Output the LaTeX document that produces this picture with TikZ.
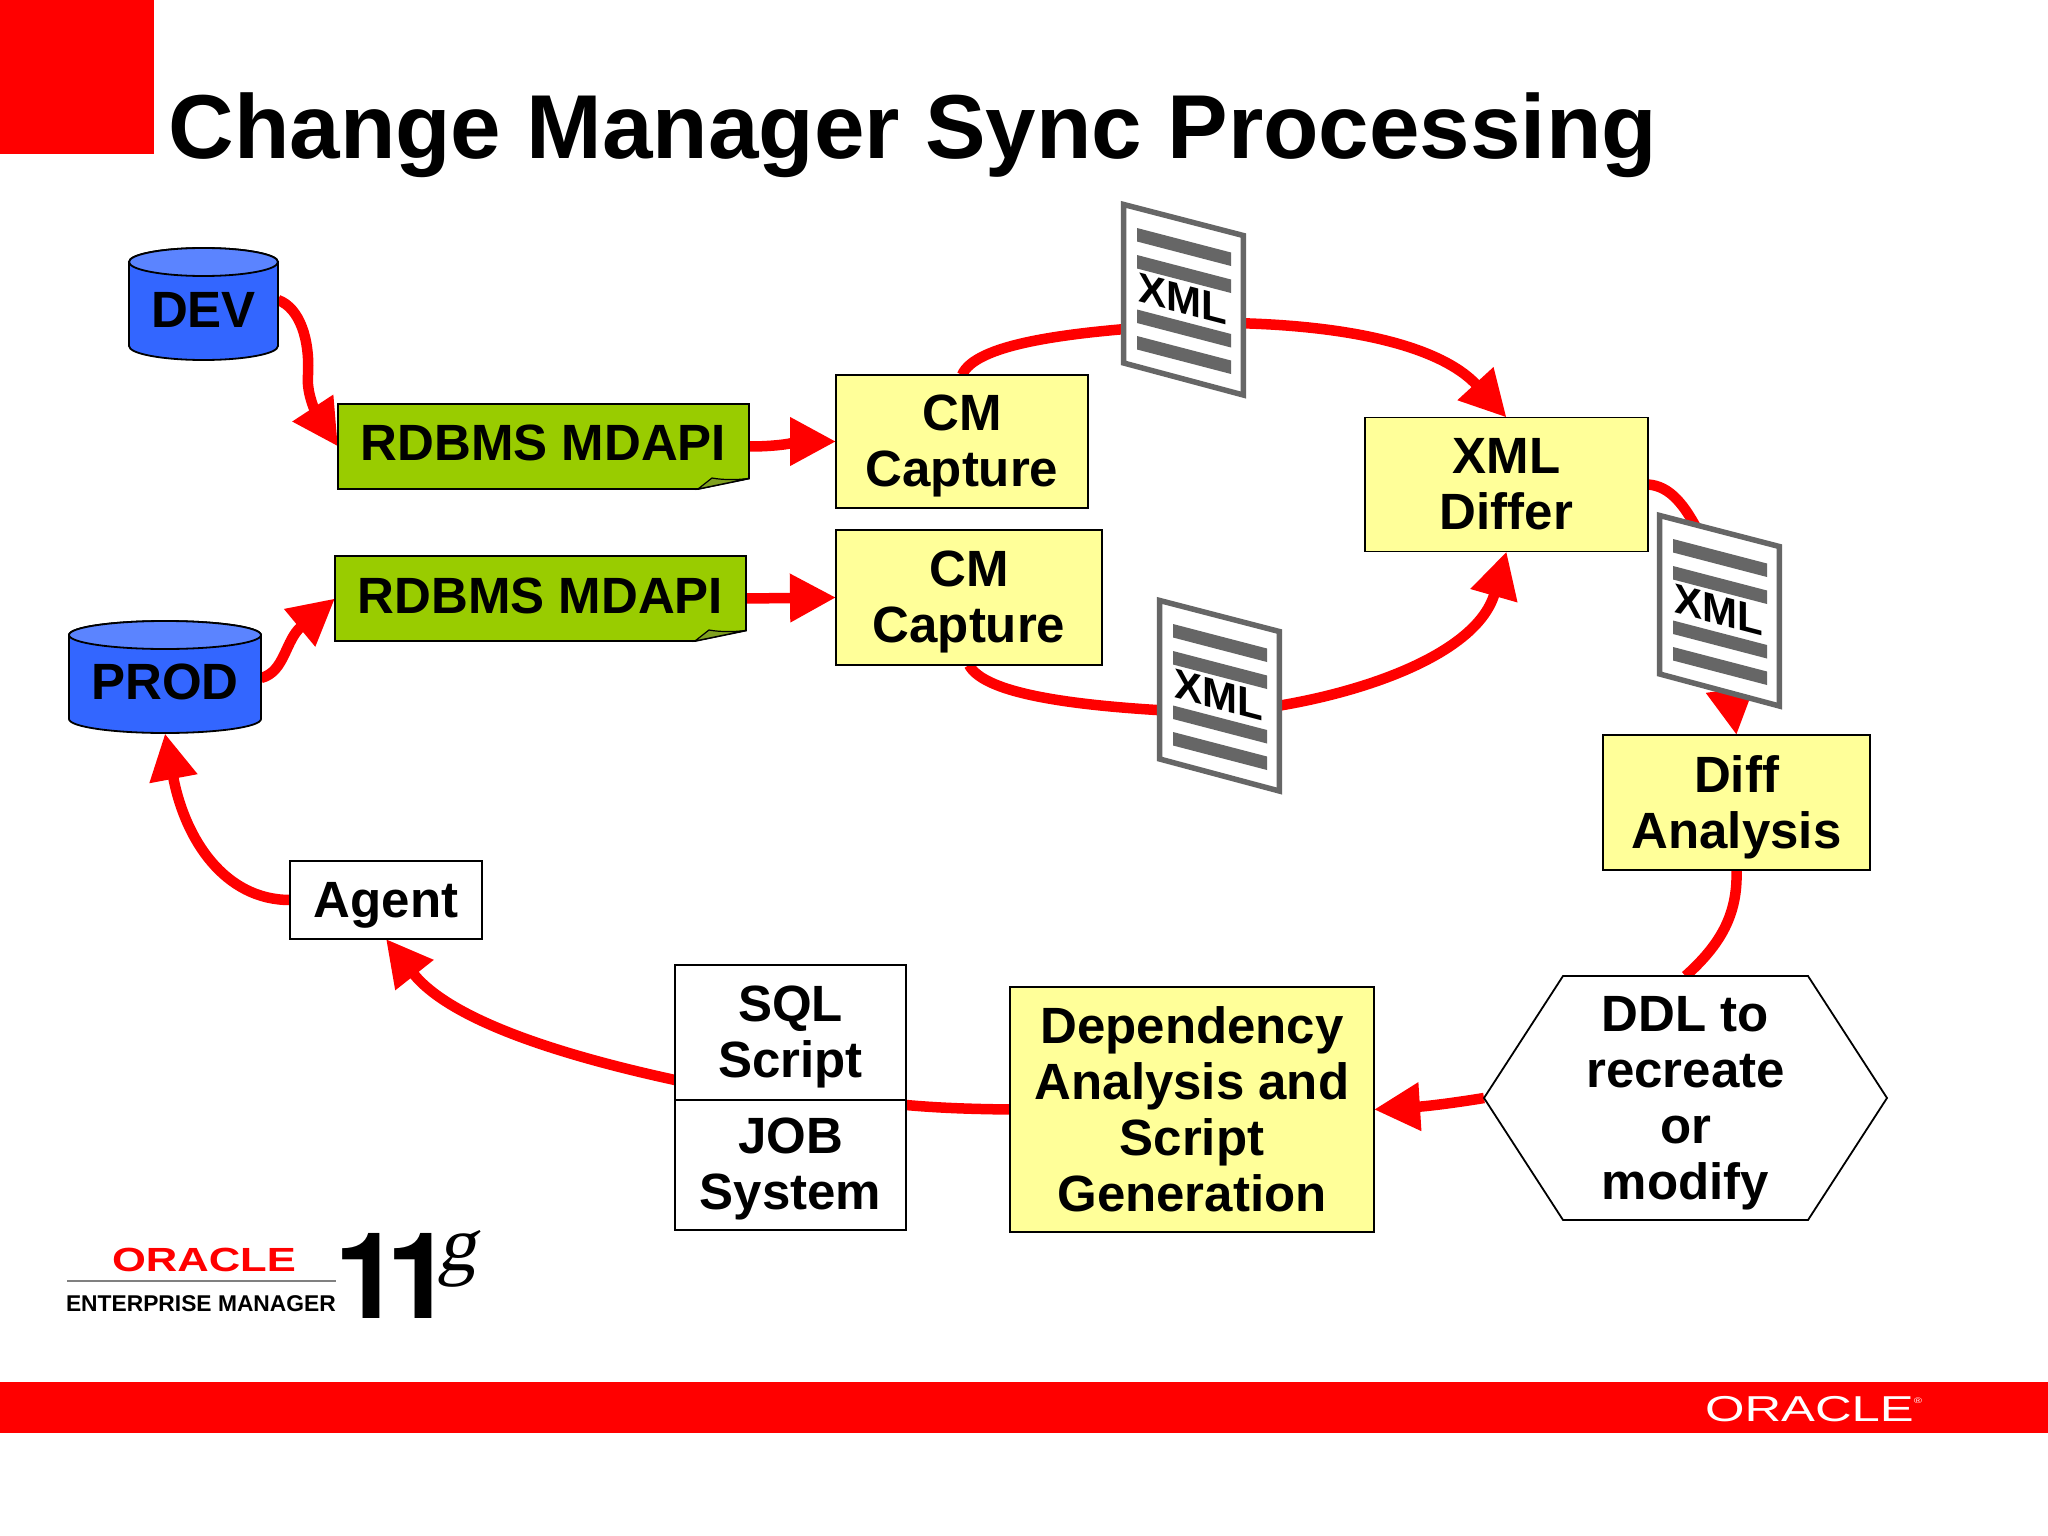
\documentclass[tikz,border=0pt]{standalone}
\usepackage{fontspec}
\setmainfont{Liberation Sans}
\newfontfamily\serifreg{Liberation Serif}
\newfontfamily\heros{TeX Gyre Heros}
\usetikzlibrary{arrows.meta,backgrounds,calc}
\definecolor{oraclered}{HTML}{FF0000}
\definecolor{boxyellow}{HTML}{FFFF99}
\definecolor{apigreen}{HTML}{99CC00}
\definecolor{foldgreen}{HTML}{7FA020}
\definecolor{dbblue}{HTML}{3366FF}
\definecolor{dbtop}{HTML}{5B84FF}
\definecolor{docgray}{HTML}{666666}
\newcommand{\fs}[2]{\fontsize{#1}{#2}\selectfont}
% invisible struts that move a centred text down (\tl) or up (\bl)
\newcommand{\tl}[1]{\rule{0pt}{#1pt}}
\newcommand{\bl}[1]{\rule[-#1pt]{0pt}{#1pt}}
\tikzset{
  base/.style={inner sep=0pt,outer sep=0pt,align=center,font=\bfseries\fs{51}{56}},
  yellowbox/.style={base,draw=black,line width=1.8pt,fill=boxyellow},
  whitebox/.style={base,draw=black,line width=1.8pt,fill=white},
  plainlabel/.style={base},
  redline/.style={draw=oraclered,line width=10.5pt},
  redarrow/.style={redline,-{Triangle[length=46pt,width=46pt]}},
  dboutline/.style={draw=black,line width=1.8pt},
}
\newcommand{\cyl}[4]{% cx rx ytop ybottom (ellipse centres)
  \path[dboutline,fill=dbblue] (#1-#2,#4) arc[start angle=180,end angle=360,x radius=#2 pt,y radius=14pt]
     -- (#1+#2,#3) arc[start angle=0,end angle=180,x radius=#2 pt,y radius=14pt] -- cycle;
  \path[dboutline,fill=dbtop] (#1,#3) ellipse[x radius=#2 pt,y radius=14pt];
}
\newcommand{\apinote}[2]{% top-left x y, 411 x 85
  \begin{scope}[shift={(#1,#2)}]
    \path[dboutline,fill=apigreen] (0,0) -- (411,0) -- (411,74.5) -- (360,85) -- (0,85) -- cycle;
    \path[draw=black,line width=1.2pt,fill=foldgreen] (360,85) -- (374,74) .. controls (385,76) and (398,76) .. (411,74.5) -- cycle;
  \end{scope}
}
\newcommand{\xmldoc}[3]{% name, top-left x y
  \begin{scope}[shift={(#2,#3)}]
    \path[draw=docgray,line width=5.5pt,fill=white,line join=miter]
      (2.7,2.5) -- (122.3,33.5) -- (122.3,193) -- (2.7,161) -- cycle;
    \foreach \yy in {26,53,107.5,134}{
      \fill[docgray] (16,\yy) -- (110,\yy+24.5) -- (110,\yy+38) -- (16,\yy+13.5) -- cycle;
    }
    \node[plainlabel,yslant=-0.26,transform shape,font=\bfseries\fs{42}{42}] (#1) at (62,97) {XML};
  \end{scope}
}
\begin{document}
\begin{tikzpicture}[x=1pt,y=-1pt]
\useasboundingbox (0,0) rectangle (2048,1536);
% page furniture
\fill[oraclered] (0,0) rectangle (154,154);
\fill[oraclered] (0,1382) rectangle (2048,1433);
\node[plainlabel,anchor=base west,font=\bfseries\fs{90.8}{90.8}] (title) at (168.5,158.5) {Change Manager Sync Processing};
\node[plainlabel,anchor=base west,text=white,font=\fs{36}{36}] (oraclewhite) at (1705,1421) {\scalebox{1.41}[1]{ORACLE\raisebox{18pt}{\fs{8}{8}®}}};
% logo
\node[plainlabel,anchor=base west,text=oraclered,font=\bfseries\fs{33.5}{33.5}] (logoora) at (112,1271) {\scalebox{1.3}[1]{ORACLE}};
\draw[gray,line width=2pt] (67,1281) -- (336,1281);
\node[plainlabel,anchor=base west,font=\bfseries\fs{22.8}{22.8}] (logoem) at (66,1311) {ENTERPRISE MANAGER};
\node[plainlabel,anchor=base west,font=\heros\bfseries\fs{120}{120}] (logo11) at (338,1318) {\kern-4pt 1\kern-14.7pt 1\kern-17pt};
\node[plainlabel,anchor=base west,xslant=0.2,transform shape,font=\serifreg\mdseries\fs{78}{78}] (logog) at (437,1270) {g};
% databases
\cyl{203.5}{74.5}{262}{346}
\node[plainlabel,minimum width=149pt,minimum height=112pt] (dev) at (203.5,304) {\tl{47}DEV};
\cyl{165}{96}{635}{719}
\node[plainlabel,minimum width=192pt,minimum height=113pt] (prod) at (165,677) {\tl{45}PROD};
% MDAPI notes
\apinote{338}{404}
\node[plainlabel,minimum width=411pt,minimum height=85pt] (api1) at (543.5,446.5) {RDBMS MDAPI\bl{8}};
\apinote{335}{556}
\node[plainlabel,minimum width=411pt,minimum height=85pt] (api2) at (540.5,598.5) {RDBMS MDAPI\bl{6}};
% yellow boxes
\node[yellowbox,minimum width=252pt,minimum height=133pt] (cap1) at (962,441.5) {\tl{45}CM\\Capture};
\node[yellowbox,minimum width=266pt,minimum height=135pt] (cap2) at (969,597.5) {\tl{45}CM\\Capture};
\node[yellowbox,minimum width=283pt,minimum height=134pt] (differ) at (1506.5,484.5) {XML\\Differ};
\node[yellowbox,minimum width=267pt,minimum height=135pt] (diff) at (1736.5,802.5) {\tl{46}Diff\\Analysis};
\node[yellowbox,minimum width=364pt,minimum height=245pt] (dep) at (1192,1109.5) {Dependency\\Analysis and\\Script\\Generation};
% white boxes
\path[draw=black,line width=1.8pt,fill=white] (1484,1098) -- (1563,976) -- (1808,976) -- (1887,1098) -- (1808,1220) -- (1563,1220) -- cycle;
\node[plainlabel,minimum width=403pt,minimum height=244pt] (ddl) at (1685.5,1098) {\tl{46}DDL to\\recreate\\or\\modify};
\node[whitebox,minimum width=231pt,minimum height=135pt] (sql) at (790.5,1032.5) {\tl{44}SQL\\Script};
\node[whitebox,minimum width=231pt,minimum height=130pt] (job) at (790.5,1165) {\tl{44}JOB\\System};
\node[whitebox,minimum width=192pt,minimum height=78pt] (agent) at (386,900) {\tl{46}Agent};
% XML documents
\xmldoc{doca}{1121}{202}
\xmldoc{docb}{1157}{598}
\xmldoc{docc}{1657}{513}
% connectors
\begin{scope}[on background layer]
\fill[white] (0,0) rectangle (2048,1536);
\draw[redarrow] ([yshift=4pt]dev.east) .. controls (300,308) and (310,340) .. (308,375) .. controls (306,395) and (318,416) .. (api1.west);
\draw[redarrow] (api1.east) to[out=0,in=180] (cap1.west);
\draw[redarrow] (api2.east) -- (cap2.west);
\draw[redarrow] ([yshift=-1pt]prod.east) .. controls (285,672) and (285,640) .. (api2.west);
\draw[redline] (cap1.north) .. controls (975,345) and (1060,332) .. ([yshift=-26pt]doca.center);
\draw[redarrow] ([yshift=-24pt]doca.center) .. controls (1340,320) and (1440,345) .. (differ.north);
\draw[redline] (cap2.south) .. controls (985,695) and (1080,708) .. ([yshift=-18pt]docb.center);
\draw[redarrow] ([yshift=-18pt]docb.center) .. controls (1330,705) and (1475,662) .. (differ.south);
\draw[redline] (differ.east) .. controls (1670,486) and (1685,505) .. (1700,535) -- (docc.center);
\draw[redarrow] (docc.center) -- (diff.north);
\draw[redline] (diff.south) .. controls (1738,915) and (1720,945) .. (ddl.north);
\draw[redarrow] (ddl.west) .. controls (1460,1102) and (1430,1106) .. (dep.east);
\draw[redline] (dep.west) .. controls (970,1109) and (940,1108) .. ([yshift=-5pt]job.north east);
\draw[redarrow] ([yshift=20pt]sql.south west) .. controls (560,1055) and (450,1020) .. (agent.south);
\draw[redarrow] (agent.west) .. controls (225,900) and (185,840) .. (prod.south);
\end{scope}
\end{tikzpicture}
\end{document}
